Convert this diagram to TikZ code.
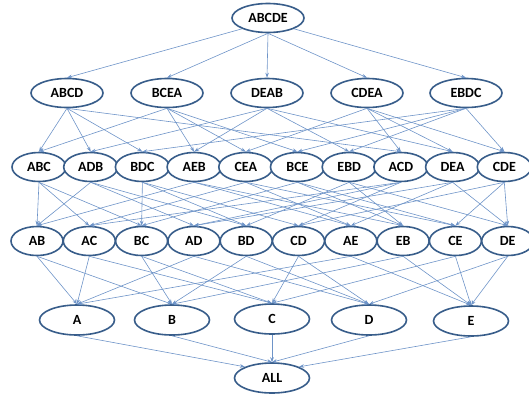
\documentclass[tikz,border=0pt]{standalone}
\usepackage{fontspec}
\setmainfont{Carlito}
\usetikzlibrary{shapes.geometric,arrows.meta}
\definecolor{bord}{RGB}{56,93,138}
\definecolor{edgec}{RGB}{110,148,200}
\begin{document}
\begin{tikzpicture}[x=1pt,y=-1pt,
 el/.style={ellipse,draw=bord,line width=1.6pt,fill=white,inner sep=0pt,font=\fontsize{14}{16}\selectfont\bfseries},
 big/.style={el,minimum width=72pt,minimum height=29pt},
 mid/.style={el,minimum width=54pt,minimum height=29pt},
 small/.style={el,minimum width=52pt,minimum height=29pt},
 edg/.style={draw=edgec,line width=0.6pt,-{Stealth[length=5pt,width=3.6pt]}}]
\useasboundingbox (0,0) rectangle (529,394);
% level 5
\node[big] (ABCDE) at (268,18) {ABCDE};
% level 4
\node[big] (ABCD) at (67,93) {ABCD};
\node[big] (BCEA) at (167,93) {BCEA};
\node[big] (DEAB) at (267,93) {DEAB};
\node[big] (CDEA) at (367,93) {CDEA};
\node[big] (EBDC) at (466,93) {EBDC};
% level 3
\node[mid] (ABC) at (39,167) {ABC};
\node[mid] (ADB) at (90.7,167) {ADB};
\node[mid] (BDC) at (142.4,167) {BDC};
\node[mid] (AEB) at (194.1,167) {AEB};
\node[mid] (CEA) at (245.8,167) {CEA};
\node[mid] (BCE) at (297.5,167) {BCE};
\node[mid] (EBD) at (349.2,167) {EBD};
\node[mid] (ACD) at (400.9,167) {ACD};
\node[mid] (DEA) at (452.6,167) {DEA};
\node[mid] (CDE) at (504.3,167) {CDE};
% level 2
\node[small] (AB) at (37,241) {AB};
\node[small] (AC) at (89.3,241) {AC};
\node[small] (BC) at (141.6,241) {BC};
\node[small] (AD) at (193.9,241) {AD};
\node[small] (BD) at (246.2,241) {BD};
\node[small] (CD) at (298.5,241) {CD};
\node[small] (AE) at (350.8,241) {AE};
\node[small] (EB) at (403.1,241) {EB};
\node[small] (CE) at (455.4,241) {CE};
\node[small] (DE) at (507.7,241) {DE};
% level 1
\node[big,minimum width=75pt,minimum height=30pt] (A) at (77,320) {A};
\node[big,minimum width=75pt,minimum height=30pt] (B) at (172,320) {B};
\node[big,minimum width=75pt,minimum height=30pt] (C) at (272,319) {C};
\node[big,minimum width=75pt,minimum height=30pt] (D) at (369,320) {D};
\node[big,minimum width=75pt,minimum height=30pt] (E) at (471,321) {E};
% level 0
\node[big,minimum width=75pt,minimum height=30pt] (ALL) at (272,378) {ALL};
% edges level 5 -> 4
\draw[edg] (ABCDE.south west) -- (ABCD.north);
\draw[edg] (ABCDE.south) -- (BCEA.north);
\draw[edg] (ABCDE.south) -- (DEAB.north);
\draw[edg] (ABCDE.south) -- (CDEA.north);
\draw[edg] (ABCDE.south east) -- (EBDC.north);
% edges level 4 -> 3
\foreach \s/\t in {ABCD/ABC,ABCD/ADB,ABCD/BDC,ABCD/ACD,
  BCEA/ABC,BCEA/AEB,BCEA/CEA,BCEA/BCE,
  DEAB/ADB,DEAB/AEB,DEAB/EBD,DEAB/DEA,
  CDEA/CEA,CDEA/ACD,CDEA/DEA,CDEA/CDE,
  EBDC/BDC,EBDC/BCE,EBDC/EBD,EBDC/CDE}
  \draw[edg] (\s.south) -- (\t.north);
% edges level 3 -> 2
\foreach \s/\t in {ABC/AB,ABC/AC,ABC/BC,
  ADB/AB,ADB/AD,ADB/BD,
  BDC/BC,BDC/BD,BDC/CD,
  AEB/AB,AEB/AE,AEB/EB,
  CEA/AC,CEA/CE,CEA/AE,
  BCE/BC,BCE/CE,BCE/EB,
  EBD/EB,EBD/BD,EBD/DE,
  ACD/AC,ACD/AD,ACD/CD,
  DEA/DE,DEA/AD,DEA/AE,
  CDE/CD,CDE/CE,CDE/DE}
  \draw[edg] (\s.south) -- (\t.north);
% edges level 2 -> 1
\foreach \s/\t in {AB/A,AB/B,AC/A,AC/C,BC/B,BC/C,AD/A,AD/D,BD/B,BD/D,
  CD/C,CD/D,AE/A,AE/E,EB/E,EB/B,CE/C,CE/E,DE/D,DE/E}
  \draw[edg] (\s.south) -- (\t.north);
% edges level 1 -> 0
\draw[edg] (A.south) -- (ALL.north west);
\draw[edg] (B.south) -- (ALL.north);
\draw[edg] (C.south) -- (ALL.north);
\draw[edg] (D.south) -- (ALL.north);
\draw[edg] (E.south) -- (ALL.north east);
\end{tikzpicture}
\end{document}
